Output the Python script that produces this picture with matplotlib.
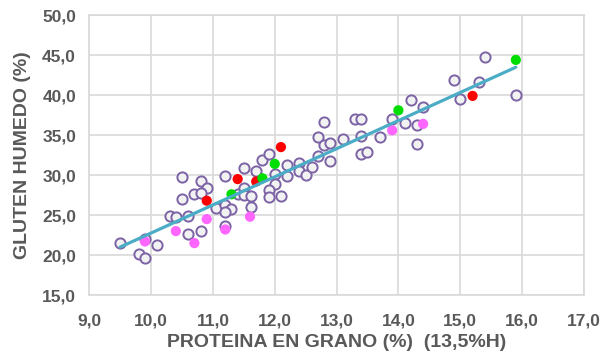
import numpy as np
import matplotlib
matplotlib.use("Agg")
import matplotlib.pyplot as plt
from matplotlib.ticker import FuncFormatter

# Muestras generales (círculos abiertos)
x_open = [9.5, 9.9, 9.8, 9.9, 10.1, 10.3, 10.4, 10.6, 10.6, 10.8, 10.5, 10.8, 10.9,
          10.7, 10.8, 10.5, 11.05, 11.2, 11.5, 11.2, 11.3, 11.2, 11.2, 11.4, 11.5,
          11.5, 11.62, 11.62, 11.7, 11.8, 11.9, 12.0, 12.0, 11.9, 11.9, 12.1, 12.2,
          12.2, 12.4, 12.4, 12.5, 12.6, 12.7, 12.7, 12.8, 12.8, 12.9, 12.9, 13.1,
          13.3, 13.4, 13.4, 13.4, 13.5, 13.7, 13.9, 14.1, 14.2, 14.4, 14.3, 14.3,
          14.9, 15.0, 15.3, 15.4, 15.9]
y_open = [21.5, 22.0, 20.1, 19.6, 21.25, 24.9, 24.8, 24.9, 22.6, 23.0, 29.7, 29.2, 28.4,
          27.6, 27.7, 27.0, 25.9, 29.9, 30.9, 26.3, 25.7, 25.4, 23.6, 27.6, 28.4,
          27.5, 27.4, 26.0, 30.5, 31.9, 32.6, 30.1, 28.9, 28.1, 27.3, 27.4, 31.2,
          29.9, 31.5, 30.5, 30.0, 31.0, 34.8, 32.4, 36.6, 33.8, 34.0, 31.8, 34.5,
          37.0, 37.0, 34.9, 32.6, 32.9, 34.7, 37.0, 36.5, 39.4, 38.5, 36.2, 33.9,
          41.9, 39.5, 41.6, 44.7, 40.0]

# Muestras destacadas
x_pink = [9.9, 10.4, 10.7, 10.9, 11.2, 11.6, 13.9, 14.4]
y_pink = [21.7, 23.0, 21.5, 24.5, 23.2, 24.8, 35.6, 36.4]

x_red = [10.9, 11.4, 11.7, 12.1, 15.2]
y_red = [26.8, 29.5, 29.2, 33.5, 39.9]

x_green = [11.3, 11.8, 12.0, 14.0, 15.9]
y_green = [27.6, 29.6, 31.4, 38.1, 44.4]

x_ticks = [9, 10, 11, 12, 13, 14, 15, 16, 17]
y_ticks = [15, 20, 25, 30, 35, 40, 45, 50]

plt.rcParams['font.family'] = ['Liberation Sans', 'DejaVu Sans']

fig = plt.figure(figsize=(6.05, 3.59), dpi=100)
ax = fig.add_axes([0.1476, 0.178, 0.8174, 0.780])

grid_c = '#D9D9D9'
text_c = '#595959'

ms = 54
ax.scatter(x_open, y_open, s=ms, facecolor='#F2F2F2', edgecolor='#7B63A6',
           linewidth=1.4, zorder=3)
ax.scatter(x_pink, y_pink, s=ms, color='#FF66FF', edgecolor='none', zorder=4)
ax.scatter(x_red, y_red, s=ms, color='#FF0000', edgecolor='none', zorder=4)
ax.scatter(x_green, y_green, s=ms, color='#00DD00', edgecolor='none', zorder=4)

# Línea de tendencia lineal sobre todas las muestras
all_x = np.array(x_open + x_pink + x_red + x_green)
all_y = np.array(y_open + y_pink + y_red + y_green)
slope, intercept = np.polyfit(all_x, all_y, 1)
tx = np.array([all_x.min(), all_x.max()])
ax.plot(tx, slope * tx + intercept, color='#4BACC6', linewidth=2.3, zorder=5,
        solid_capstyle='round')

ax.set_xlim(9, 17)
ax.set_ylim(15, 50)
ax.set_xticks(x_ticks)
ax.set_yticks(y_ticks)
fmt = FuncFormatter(lambda v, p: f"{v:.1f}".replace('.', ','))
ax.xaxis.set_major_formatter(fmt)
ax.yaxis.set_major_formatter(fmt)

ax.grid(True, color=grid_c, linewidth=1.2, zorder=0)
ax.set_axisbelow(True)
for s in ax.spines.values():
    s.set_color(grid_c)
    s.set_linewidth(1.2)
ax.tick_params(axis='x', length=0, pad=13, labelsize=12.5, labelcolor=text_c)
ax.tick_params(axis='y', length=0, pad=9.5, labelsize=12.5, labelcolor=text_c)
for lab in ax.get_xticklabels() + ax.get_yticklabels():
    lab.set_fontweight('bold')

ax.set_xlabel('PROTEINA EN GRANO (%)  (13,5%H)', fontsize=14, fontweight='bold',
              color=text_c, labelpad=4)
ax.set_ylabel('GLUTEN HUMEDO (%)', fontsize=14, fontweight='bold',
              color=text_c, labelpad=8)

fig.savefig('out.png', dpi=100)
